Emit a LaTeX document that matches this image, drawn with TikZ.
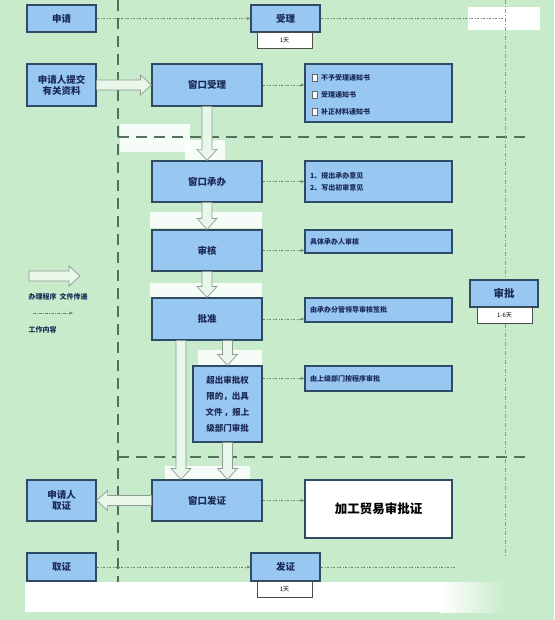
\documentclass[tikz,border=0pt]{standalone}
\usepackage{fontspec}
\setmainfont{Noto Sans CJK SC}
\usetikzlibrary{calc,arrows.meta}
\definecolor{bgc}{HTML}{C8EBCB}
\definecolor{boxf}{HTML}{98C8F2}
\definecolor{boxd}{HTML}{2F4A63}
\definecolor{txt}{HTML}{1B2A55}
\definecolor{dsh}{HTML}{52705C}
\definecolor{dot}{HTML}{6E7F70}
\definecolor{hol}{HTML}{8E9A92}
\tikzset{
  box/.style={draw=boxd, line width=1.2pt, fill=boxf, text=txt, font=\bfseries\fontsize{9.5}{11}\selectfont, inner sep=1pt, align=center},
  rbox/.style={box, font=\bfseries\fontsize{7}{9}\selectfont, align=left},
  daybox/.style={draw=black!70, line width=0.6pt, fill=white, font=\fontsize{6}{7}\selectfont, inner sep=0pt},
  dotarrow/.style={draw=dot, line width=0.6pt, dash pattern=on 2.5pt off 1.5pt on 0.5pt off 1.5pt, -{Stealth[length=4pt,width=3pt]}},
  dotline/.style={draw=dot, line width=0.6pt, dash pattern=on 2.5pt off 1.5pt on 0.5pt off 1.5pt},
  bigdash/.style={draw=dsh, line width=1.8pt, dash pattern=on 11pt off 7pt},
  hollow/.style={draw=hol, line width=0.7pt, fill=bgc!40!white, to path={
    let \p1=(\tikztostart), \p2=(\tikztotarget), \n1={atan2(\y2-\y1,\x2-\x1)} in
    ($(\p1)+(\n1+90:5pt)$) -- ($(\p2)+(\n1+180:11pt)+(\n1+90:5pt)$) -- ($(\p2)+(\n1+180:11pt)+(\n1+90:10pt)$) -- (\p2) -- ($(\p2)+(\n1+180:11pt)+(\n1-90:10pt)$) -- ($(\p2)+(\n1+180:11pt)+(\n1-90:5pt)$) -- ($(\p1)+(\n1-90:5pt)$) -- cycle}},
  patch/.style={fill=white, draw=none, opacity=0.85}
}
\begin{document}
\begin{tikzpicture}[x=1pt,y=-1pt]
\useasboundingbox (0,0) rectangle (554,620);
\fill[bgc] (0,0) rectangle (554,620);
% white patches
\fill[white] (25,582) rectangle (440,612);
\shade[left color=white, right color=bgc] (440,582) rectangle (505,612);
\fill[white] (468,7) rectangle (540,30);
\fill[patch] (120,124) rectangle (190,152);
\fill[patch] (185,140) rectangle (225,160);
\fill[patch] (150,212) rectangle (262,228);
\fill[patch] (150,283) rectangle (262,297);
\fill[patch] (198,350) rectangle (262,365);
\fill[patch] (165,466) rectangle (250,479);
% lane lines
\draw[bigdash] (118,0) -- (118,582);
\draw[bigdash] (118,137) -- (532,137);
\draw[bigdash] (118,457) -- (532,457);
\draw[draw=dot!80, line width=0.5pt, dash pattern=on 4pt off 2pt on 1pt off 2pt] (505,0) -- (505,556);
% nodes
\node[box, minimum width=69, minimum height=27] (sq) at (61.5,18.5) {申请};
\node[box, minimum width=69, minimum height=27] (sl) at (285.5,18.5) {受理};
\node[daybox, minimum width=55, minimum height=16] (d1) at (284.5,40) {1天};
\node[box, minimum width=69, minimum height=42] (tj) at (61.5,85) {申请人提交\\有关资料};
\node[box, minimum width=110, minimum height=42] (ck) at (207,85) {窗口受理};
\node[rbox, minimum width=147, minimum height=58] (r1) at (378.5,93) {};
\node[box, minimum width=110, minimum height=41] (cb) at (207,181.5) {窗口承办};
\node[rbox, minimum width=147, minimum height=41, text width=137] (r2) at (378.5,181.5) {1、提出承办意见\\[3pt]2、写出初审意见};
\node[box, minimum width=110, minimum height=41] (sh) at (207,250.5) {审核};
\node[rbox, minimum width=147, minimum height=23, text width=137] (r3) at (378.5,241.5) {具体承办人审核};
\node[box, minimum width=110, minimum height=42] (pz) at (207,319) {批准};
\node[rbox, minimum width=147, minimum height=24, text width=137] (r4) at (378.5,310) {由承办分管领导审核签批};
\node[box, minimum width=68, minimum height=27, font=\bfseries\fontsize{10.5}{12}\selectfont] (sp) at (504,293.5) {审批};
\node[daybox, minimum width=55, minimum height=16] (d2) at (504.5,315) {1-6天};
\node[box, minimum width=69, minimum height=76, font=\bfseries\fontsize{8.5}{16}\selectfont] (cc) at (227.5,404) {超出审批权\\限的，出具\\文件\,，报上\\级部门审批};
\node[rbox, minimum width=147, minimum height=25, text width=137] (r5) at (378.5,378.5) {由上级部门按程序审批};
\node[box, minimum width=110, minimum height=41] (fz) at (207,500.5) {窗口发证};
\node[box, minimum width=69, minimum height=41] (qz) at (61.5,500.5) {申请人\\取证};
\node[draw=boxd, line width=1.2pt, fill=white, minimum width=147, minimum height=58, font=\bfseries\fontsize{12.5}{14}\selectfont] (zs) at (378.5,509) {加工贸易审批证};
\node[box, minimum width=69, minimum height=28] (qz2) at (61.5,567) {取证};
\node[box, minimum width=69, minimum height=28] (fz2) at (285.5,567) {发证};
\node[daybox, minimum width=55, minimum height=16] (d3) at (284.5,589) {1天};
% checklist in r1
\foreach \yy/\tt in {78/不予受理通知书, 95/受理通知书, 112/补正材料通知书}{
  \draw[black!60, line width=0.4pt, fill=white] (312,\yy-3.5) rectangle (317,\yy+3.5);
  \node[anchor=west, text=txt, font=\bfseries\fontsize{7}{8}\selectfont, inner sep=0pt] at (321,\yy) {\tt};
}
% dotted connectors
\coordinate (re) at (505,20);
\coordinate (be) at (455,568);
\draw[dotarrow] (sq) -- (sl);
\draw[dotline] (sl.east) -- (sl.east -| re);
\draw[dotarrow] (qz2) -- (fz2);
\draw[dotline] (fz2.east) -- (fz2.east -| be);
\draw[dotarrow] (ck.east) -- (ck.east -| r1.west);
\draw[dotarrow] (cb.east) -- (cb.east -| r2.west);
\draw[dotarrow] (sh.east) -- (sh.east -| r3.west);
\draw[dotarrow] (pz.east) -- (pz.east -| r4.west);
\draw[dotarrow] (cc.east |- r5.west) -- (r5.west);
\draw[dotarrow] (fz.east) -- (fz.east -| zs.west);
% hollow arrows
\coordinate (la) at (181,0);
\draw[hollow] (tj.east) to (ck.west);
\draw[hollow] (ck.south) to (cb.north);
\draw[hollow] (cb.south) to (sh.north);
\draw[hollow] (sh.south) to (pz.north);
\draw[hollow] (pz.south -| la) to (fz.north -| la);
\draw[hollow] (pz.south -| cc.north) to (cc.north);
\draw[hollow] (cc.south) to (cc.south |- fz.north);
\draw[hollow] (fz.west) to (qz.east);
% legend
\coordinate (lg1) at (29,276);
\coordinate (lg2) at (80,276);
\coordinate (lg3) at (33,313);
\coordinate (lg4) at (73,313);
\draw[hollow] (lg1) to (lg2);
\node[text=txt, font=\bfseries\fontsize{7}{8}\selectfont, anchor=west] (lt1) at (25,297) {办理程序\ \ 文件传递};
\draw[dotarrow] (lg3) -- (lg4);
\node[text=txt, font=\bfseries\fontsize{7}{8}\selectfont, anchor=west] (lt2) at (25,330) {工作内容};
\end{tikzpicture}
\end{document}
